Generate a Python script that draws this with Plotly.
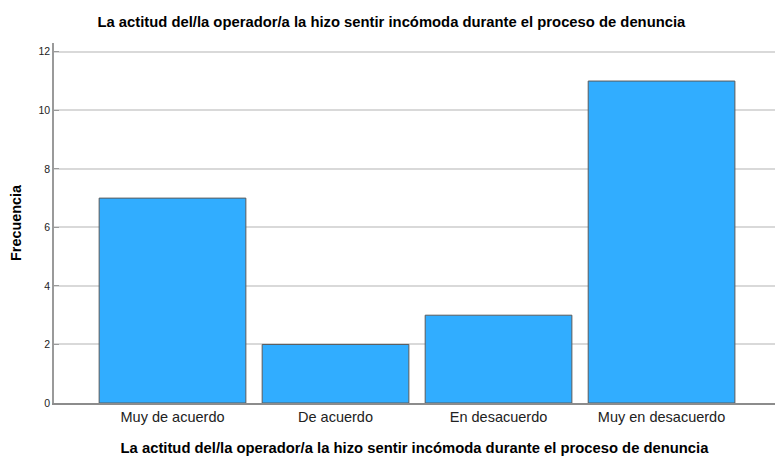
import plotly.graph_objects as go

categorias = ["Muy de acuerdo", "De acuerdo", "En desacuerdo", "Muy en desacuerdo"]
frecuencias = [7, 2, 3, 11]
ticks_y = [0, 2, 4, 6, 8, 10, 12]

titulo = "La actitud del/la operador/a la hizo sentir incómoda durante el proceso de denuncia"

fig = go.Figure(
    go.Bar(
        x=categorias,
        y=frecuencias,
        width=0.9,
        marker=dict(color="#31ADFF", line=dict(color="#5a5a5a", width=1)),
    )
)

fig.update_layout(
    width=775,
    height=456,
    margin=dict(l=54, r=0, t=43, b=53),
    paper_bgcolor="white",
    plot_bgcolor="white",
    font=dict(family="Liberation Sans, Arial, sans-serif", color="#000000"),
    showlegend=False,
    title=dict(
        text="<b>" + titulo + "</b>",
        x=0.505,
        xref="container",
        xanchor="center",
        y=0.953,
        yref="container",
        yanchor="middle",
        font=dict(size=14.8),
    ),
)

fig.update_xaxes(
    range=[-0.727, 3.696],
    showgrid=False,
    showline=True,
    linecolor="#8c8c8c",
    linewidth=1.5,
    ticks="",
    tickfont=dict(size=14.5, color="#222222"),
    title=dict(text="<b>" + titulo + "</b>", font=dict(size=14.8), standoff=18),
)

fig.update_yaxes(
    range=[0, 12.3],
    tickvals=ticks_y,
    showgrid=True,
    gridcolor="#d9d9d9",
    gridwidth=1.5,
    showline=True,
    linecolor="#9a9a9a",
    linewidth=1.5,
    ticks="inside",
    ticklen=5,
    tickcolor="#9a9a9a",
    tickfont=dict(size=10.5, color="#222222"),
    zeroline=False,
    title=dict(text="<b>Frecuencia</b>", font=dict(size=14.4), standoff=13),
)

fig.write_html("out.html")
